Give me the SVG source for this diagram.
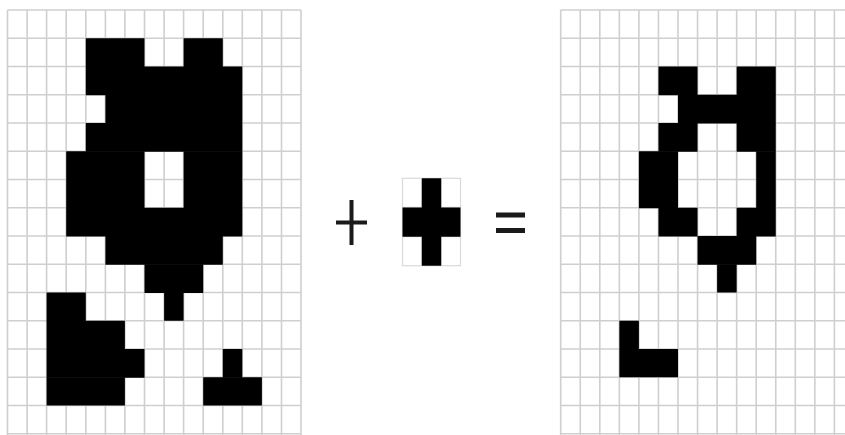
<svg xmlns="http://www.w3.org/2000/svg" width="845" height="435" viewBox="0 0 845 435">
<style>
.grid line{stroke:#cfcfcf;stroke-width:1.6}
.se line,.se rect.box{stroke:#d9d9d9;stroke-width:1.2;fill:none}
.px{fill:#000}
.op{fill:#1a1a1a}
</style>
<rect width="845" height="435" fill="#fff"/>
<g id="input-grid" class="grid">
<line x1="7.5" y1="10" x2="7.5" y2="435"/><line x1="27.1" y1="10" x2="27.1" y2="435"/><line x1="46.6" y1="10" x2="46.6" y2="435"/><line x1="66.2" y1="10" x2="66.2" y2="435"/><line x1="85.8" y1="10" x2="85.8" y2="435"/><line x1="105.4" y1="10" x2="105.4" y2="435"/><line x1="124.9" y1="10" x2="124.9" y2="435"/><line x1="144.5" y1="10" x2="144.5" y2="435"/><line x1="164.1" y1="10" x2="164.1" y2="435"/><line x1="183.6" y1="10" x2="183.6" y2="435"/><line x1="203.2" y1="10" x2="203.2" y2="435"/><line x1="222.8" y1="10" x2="222.8" y2="435"/><line x1="242.3" y1="10" x2="242.3" y2="435"/><line x1="261.9" y1="10" x2="261.9" y2="435"/><line x1="281.5" y1="10" x2="281.5" y2="435"/><line x1="301" y1="10" x2="301" y2="435"/>
<line x1="7.5" y1="10" x2="301" y2="10"/><line x1="7.5" y1="38.25" x2="301" y2="38.25"/><line x1="7.5" y1="66.5" x2="301" y2="66.5"/><line x1="7.5" y1="94.75" x2="301" y2="94.75"/><line x1="7.5" y1="123" x2="301" y2="123"/><line x1="7.5" y1="151.25" x2="301" y2="151.25"/><line x1="7.5" y1="179.5" x2="301" y2="179.5"/><line x1="7.5" y1="207.75" x2="301" y2="207.75"/><line x1="7.5" y1="236" x2="301" y2="236"/><line x1="7.5" y1="264.25" x2="301" y2="264.25"/><line x1="7.5" y1="292.5" x2="301" y2="292.5"/><line x1="7.5" y1="320.75" x2="301" y2="320.75"/><line x1="7.5" y1="349" x2="301" y2="349"/><line x1="7.5" y1="377.25" x2="301" y2="377.25"/><line x1="7.5" y1="405.5" x2="301" y2="405.5"/><line x1="7.5" y1="433.75" x2="301" y2="433.75"/>
</g>
<g id="input-pixels" class="px">
<rect x="85.8" y="38.25" width="58.7" height="28.75"/><rect x="183.6" y="38.25" width="39.2" height="28.75"/>
<rect x="85.8" y="66.5" width="156.5" height="28.75"/>
<rect x="105.4" y="94.75" width="136.9" height="28.75"/>
<rect x="85.8" y="123" width="156.5" height="28.75"/>
<rect x="66.2" y="151.25" width="78.3" height="57"/><rect x="183.6" y="151.25" width="58.7" height="57"/>
<rect x="66.2" y="207.75" width="176.1" height="28.75"/>
<rect x="105.4" y="236" width="117.4" height="28.75"/>
<rect x="144.5" y="264.25" width="58.7" height="28.75"/>
<rect x="164.1" y="292.5" width="19.5" height="28.25"/>
<rect x="46.6" y="292.5" width="39.2" height="28.75"/>
<rect x="46.6" y="320.75" width="78.3" height="28.75"/>
<rect x="46.6" y="349" width="97.9" height="28.75"/><rect x="222.8" y="349" width="19.5" height="28.75"/>
<rect x="46.6" y="377.25" width="78.3" height="28.25"/><rect x="203.2" y="377.25" width="58.7" height="28.25"/>
</g>
<g id="plus-sign" class="op">
<rect x="349.5" y="200" width="4" height="45"/>
<rect x="336" y="220.5" width="31" height="4"/>
</g>
<g id="structuring-element" class="se">
<rect class="box" x="402.5" y="178.3" width="58" height="87.4"/>
<line x1="421.8" y1="178.3" x2="421.8" y2="265.7"/><line x1="441.2" y1="178.3" x2="441.2" y2="265.7"/>
<line x1="402.5" y1="207.4" x2="460.5" y2="207.4"/><line x1="402.5" y1="236.6" x2="460.5" y2="236.6"/>
<path class="px" d="M421.8 178.3H441.2V207.6H460.5V236.8H441.2V265.7H421.8V236.8H402.5V207.6H421.8Z" style="fill:#000;stroke:none"/>
</g>
<g id="equals-sign" class="op">
<rect x="496" y="212.5" width="29" height="5"/>
<rect x="496" y="228" width="29" height="5"/>
</g>
<g id="output-grid" class="grid">
<line x1="560.7" y1="10" x2="560.7" y2="435"/><line x1="580.25" y1="10" x2="580.25" y2="435"/><line x1="599.8" y1="10" x2="599.8" y2="435"/><line x1="619.35" y1="10" x2="619.35" y2="435"/><line x1="638.9" y1="10" x2="638.9" y2="435"/><line x1="658.45" y1="10" x2="658.45" y2="435"/><line x1="678" y1="10" x2="678" y2="435"/><line x1="697.55" y1="10" x2="697.55" y2="435"/><line x1="717.1" y1="10" x2="717.1" y2="435"/><line x1="736.65" y1="10" x2="736.65" y2="435"/><line x1="756.2" y1="10" x2="756.2" y2="435"/><line x1="775.75" y1="10" x2="775.75" y2="435"/><line x1="795.3" y1="10" x2="795.3" y2="435"/><line x1="814.85" y1="10" x2="814.85" y2="435"/><line x1="834.4" y1="10" x2="834.4" y2="435"/>
<line x1="560.7" y1="10" x2="845" y2="10"/><line x1="560.7" y1="38.25" x2="845" y2="38.25"/><line x1="560.7" y1="66.5" x2="845" y2="66.5"/><line x1="560.7" y1="94.75" x2="845" y2="94.75"/><line x1="560.7" y1="123" x2="845" y2="123"/><line x1="560.7" y1="151.25" x2="845" y2="151.25"/><line x1="560.7" y1="179.5" x2="845" y2="179.5"/><line x1="560.7" y1="207.75" x2="845" y2="207.75"/><line x1="560.7" y1="236" x2="845" y2="236"/><line x1="560.7" y1="264.25" x2="845" y2="264.25"/><line x1="560.7" y1="292.5" x2="845" y2="292.5"/><line x1="560.7" y1="320.75" x2="845" y2="320.75"/><line x1="560.7" y1="349" x2="845" y2="349"/><line x1="560.7" y1="377.25" x2="845" y2="377.25"/><line x1="560.7" y1="405.5" x2="845" y2="405.5"/><line x1="560.7" y1="433.75" x2="845" y2="433.75"/>
</g>
<g id="output-pixels" class="px">
<rect x="658.45" y="66.5" width="39.1" height="28.75"/><rect x="736.65" y="66.5" width="39.1" height="28.75"/>
<rect x="678" y="94.75" width="97.75" height="28.75"/>
<rect x="658.45" y="123" width="39.1" height="28.75"/><rect x="736.65" y="123" width="39.1" height="28.75"/>
<rect x="638.9" y="151.25" width="39.1" height="57"/><rect x="756.2" y="151.25" width="19.55" height="57"/>
<rect x="658.45" y="207.75" width="39.1" height="28.75"/><rect x="736.65" y="207.75" width="39.1" height="28.75"/>
<rect x="697.55" y="236" width="58.65" height="28.75"/>
<rect x="717.1" y="264.25" width="19.55" height="28.25"/>
<rect x="619.35" y="320.75" width="19.55" height="28.75"/>
<rect x="619.35" y="349" width="58.65" height="28.25"/>
</g>
</svg>
